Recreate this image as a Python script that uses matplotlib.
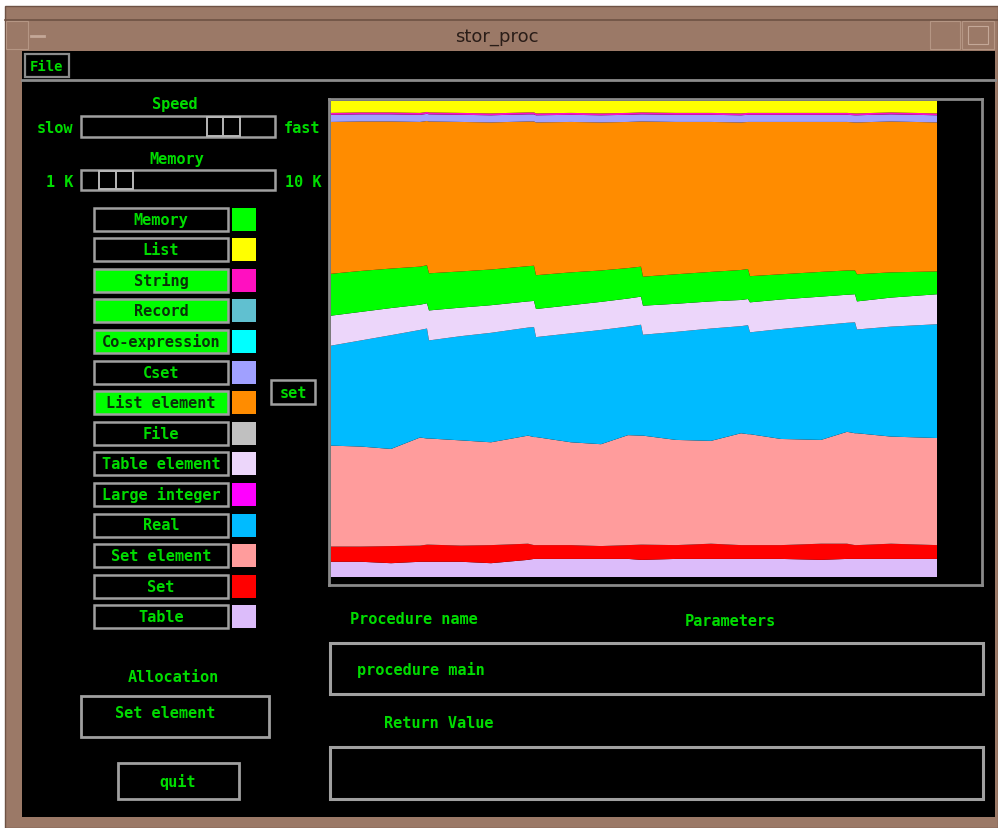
import matplotlib
matplotlib.use("Agg")
import matplotlib.pyplot as plt
from matplotlib.patches import Rectangle

# sample times along the run (storage snapshots)
times = [0, 30, 60, 89, 96, 98, 130, 160, 197, 203, 205, 240, 270, 297, 310,
         312, 345, 380, 410, 417, 419, 450, 490, 516, 524, 526, 560, 606]

# share of allocated storage per region type (percent), bottom to top
table = [3.2, 3.2, 2.9, 3.2, 3.2, 3.2, 3.2, 2.9, 3.6, 3.8, 3.8, 3.8, 3.8, 3.8,
         3.6, 3.6, 3.8, 3.8, 3.8, 3.8, 3.8, 3.8, 3.6, 3.8, 3.8, 3.8, 3.8, 3.8]
set_blocks = [3.2, 3.2, 3.6, 3.4, 3.6, 3.6, 3.4, 3.8, 3.4, 2.9, 2.9, 2.9, 2.7, 2.9,
              3.2, 3.2, 2.9, 3.2, 2.9, 2.9, 2.9, 2.9, 3.4, 3.2, 2.9, 2.9, 3.2, 2.9]
set_element = [21.2, 21.0, 20.4, 22.7, 22.3, 22.3, 22.1, 21.6, 22.7, 22.7, 22.7, 21.6, 21.4, 23.1,
               22.9, 22.9, 22.1, 21.6, 23.5, 23.3, 23.3, 22.3, 21.8, 23.5, 23.5, 23.5, 22.5, 22.5]
real = [21.0, 22.3, 23.9, 22.6, 23.1, 20.6, 21.9, 23.0, 22.7, 23.1, 21.0, 22.9, 24.0, 22.8,
        23.3, 21.2, 22.7, 23.6, 22.5, 22.9, 21.4, 23.1, 24.1, 22.9, 23.3, 21.8, 23.1, 23.9]
table_element = [6.3, 6.0, 5.7, 5.3, 5.3, 6.3, 6.0, 5.8, 5.5, 5.5, 5.9, 5.9, 5.9, 5.9,
                 5.9, 6.1, 5.9, 5.7, 5.5, 5.5, 6.3, 6.2, 6.0, 5.9, 5.9, 5.9, 6.1, 6.3]
memory = [8.8, 8.6, 8.3, 8.0, 8.0, 7.8, 7.6, 7.5, 7.4, 7.4, 7.1, 6.9, 6.6, 6.4,
          6.3, 6.1, 6.2, 6.2, 6.3, 6.3, 5.5, 5.3, 5.2, 5.1, 5.0, 5.7, 5.3, 4.8]
list_element = [31.9, 31.4, 30.9, 30.4, 30.3, 31.9, 31.4, 30.9, 30.4, 30.3, 32.1, 31.6, 31.1, 30.7,
                30.5, 32.6, 32.0, 31.5, 31.0, 30.9, 32.4, 32.0, 31.5, 31.2, 31.1, 31.9, 31.7, 31.3]
cset = [1.5, 1.5, 1.5, 1.5, 1.5, 1.5, 1.5, 1.5, 1.5, 1.5, 1.5, 1.5, 1.5, 1.5,
        1.5, 1.5, 1.5, 1.5, 1.5, 1.5, 1.5, 1.5, 1.5, 1.5, 1.5, 1.5, 1.5, 1.5]
string = [0.4, 0.4, 0.4, 0.4, 0.4, 0.4, 0.4, 0.4, 0.4, 0.4, 0.4, 0.4, 0.4, 0.4,
          0.4, 0.4, 0.4, 0.4, 0.4, 0.4, 0.4, 0.4, 0.4, 0.4, 0.4, 0.4, 0.4, 0.4]
list_blocks = [2.5, 2.4, 2.4, 2.5, 2.3, 2.4, 2.5, 2.6, 2.4, 2.4, 2.6, 2.5, 2.6, 2.5,
               2.4, 2.4, 2.5, 2.5, 2.6, 2.5, 2.5, 2.5, 2.5, 2.5, 2.6, 2.6, 2.4, 2.6]

stack_layers = [table, set_blocks, set_element, real, table_element,
                memory, list_element, cset, string, list_blocks]
stack_colors = ["#dcbcfa", "#ff0000", "#ff9c9c", "#00bbff", "#ecd6fa",
                "#00ff00", "#ff8c00", "#a0a0ff", "#ff10c8", "#ffff00"]

# legend buttons on the left panel
button_labels = ["Memory", "List", "String", "Record", "Co-expression", "Cset",
                 "List element", "File", "Table element", "Large integer", "Real",
                 "Set element", "Set", "Table"]
button_on = [False, False, True, True, True, False, True,
             False, False, False, False, False, False, False]
button_colors = ["#00ff00", "#ffff00", "#ff10c0", "#60c0d0", "#00ffff", "#a0a0ff",
                 "#ff8c00", "#c0c0c0", "#ecd6fa", "#ff00ff", "#00bbff",
                 "#ff9c9c", "#ff0000", "#dcbcfa"]

GREEN = "#00dc00"
GRAY = "#a0a0a0"
BROWN = "#9b7967"
MONO = "DejaVu Sans Mono"

fig = plt.figure(figsize=(9.98, 8.29), dpi=100, facecolor="white")

# background axes in pixel coordinates
bg = fig.add_axes([0, 0, 1, 1])
bg.set_xlim(0, 998)
bg.set_ylim(829, 0)
bg.axis("off")


def box(x0, y0, x1, y1, fc="none", ec=GRAY, lw=1.8, z=2):
    bg.add_patch(Rectangle((x0, y0), x1 - x0, y1 - y0, facecolor=fc,
                           edgecolor=ec, linewidth=lw, zorder=z))


def label(x, y, s, color=GREEN, ha="center", size=11):
    bg.text(x, y, s, color=color, ha=ha, va="center", fontsize=size,
            family=MONO, fontweight="bold", zorder=5)


# window frame + title bar
box(5, 7, 998, 829, fc=BROWN, ec="#6e5244", lw=1.0, z=0)
bg.plot([5, 998], [20.5, 20.5], color="#6e5244", lw=1.2, zorder=1)
box(6, 22, 28, 50, fc="none", ec="#b59684", lw=0.8, z=1)
bg.plot([31, 44], [37, 37], color="#c4a898", lw=2.0, zorder=1)
box(930, 22, 960, 50, fc="none", ec="#b59684", lw=0.8, z=1)
box(962, 22, 994, 50, fc="none", ec="#b59684", lw=0.8, z=1)
box(968, 27, 988, 45, fc="none", ec="#c4a898", lw=0.8, z=1)
bg.text(497, 37, "stor_proc", color="#2a1d18", ha="center", va="center",
        fontsize=13, family="DejaVu Sans", zorder=5)

# client area
box(22, 52, 995, 818, fc="black", ec="none", lw=0, z=1)
bg.plot([22, 995], [80.5, 80.5], color="#8c8c8c", lw=2.0, zorder=2)
box(25, 55, 69, 78, fc="black", ec="#8c8c8c", lw=1.6)
label(47, 67, "File", size=10)

# sliders
label(175, 104, "Speed")
label(55, 128, "slow")
label(302, 128, "fast")
box(81, 117, 275, 138, fc="black", ec=GRAY, lw=1.8)
box(207, 118, 240, 137, fc="none", ec="#b8b8b8", lw=1.4)
bg.plot([223, 223], [118, 137], color="#b8b8b8", lw=1.4, zorder=3)

label(177, 159, "Memory")
label(60, 182, "1 K")
label(303, 182, "10 K")
box(81, 171, 275, 191, fc="black", ec=GRAY, lw=1.8)
box(99, 172, 133, 190, fc="none", ec="#b8b8b8", lw=1.4)
bg.plot([116, 116], [172, 190], color="#b8b8b8", lw=1.4, zorder=3)

# legend buttons + swatches
for i, (name, on, col) in enumerate(zip(button_labels, button_on, button_colors)):
    yc = 220 + 30.6 * i
    box(94, yc - 11.5, 228, yc + 11.5, fc="#00ff00" if on else "black", ec=GRAY, lw=1.8)
    label(161, yc, name, color="#0a300a" if on else GREEN)
    box(232, yc - 11.5, 256, yc + 11.5, fc=col, ec="none", lw=0)

box(271, 381, 315, 405, fc="black", ec=GRAY, lw=1.8)
label(293, 393, "set")

# allocation + quit
label(173, 678, "Allocation")
box(81, 697, 269, 738, fc="black", ec=GRAY, lw=2.0)
label(115, 714, "Set element", ha="left")
box(118, 764, 239, 800, fc="black", ec=GRAY, lw=2.0)
label(178, 782, "quit")

# procedure / return value panels
label(414, 620, "Procedure name")
label(730, 622, "Parameters")
box(330, 644, 983, 695, fc="black", ec=GRAY, lw=2.2)
label(357, 670, "procedure main", ha="left")
label(439, 724, "Return Value")
box(330, 748, 983, 800, fc="black", ec=GRAY, lw=2.2)

# stacked storage chart
ax = fig.add_axes([329 / 998, 1 - 586 / 829, 653 / 998, 486 / 829])
ax.set_facecolor("black")
ax.stackplot(times, stack_layers, colors=stack_colors, linewidth=0)
ax.set_xlim(-2, 651)
ax.set_ylim(-1.68, 100.42)
ax.set_xticks([])
ax.set_yticks([])
for sp in ax.spines.values():
    sp.set_color("#8a8a8a")
    sp.set_linewidth(2.0)

fig.savefig("out.png", dpi=100, facecolor="white")
